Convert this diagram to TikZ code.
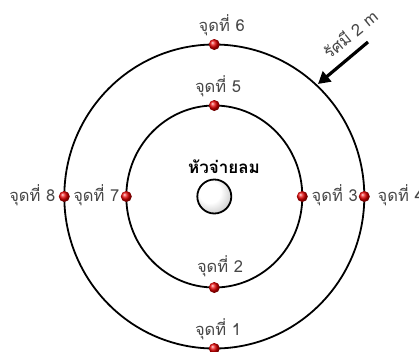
\documentclass[tikz,border=0pt]{standalone}
\usepackage{fontspec}
\newfontfamily\thaifont[Script=Thai]{Loma}
\usetikzlibrary{arrows.meta}
\pgfdeclareradialshading{wball}{\pgfpoint{-9bp}{9bp}}{color(0bp)=(white); color(16bp)=(white); color(30bp)=(black!18); color(40bp)=(black!45); color(60bp)=(black!55)}
\begin{document}
\begin{tikzpicture}[x=1pt,y=-1pt,
  ring/.style={line width=1.8pt,draw=black},
  dot/.style={circle,inner sep=0pt,minimum size=11pt,shading=ball,ball color=red!90!black},
  lbl/.style={font=\thaifont\fontsize{16.5}{18}\selectfont,text=black!72,inner sep=0.5pt},
  title/.style={font=\thaifont\bfseries\fontsize{17}{19}\selectfont,text=black,inner sep=0.5pt}]
\useasboundingbox (0,0) rectangle (419,351);
\coordinate (c) at (214.3,196.5);
\draw[ring] (c) ellipse (150 and 152);
\draw[ring] (c) ellipse (88 and 91);
\node[circle,minimum size=34pt,inner sep=0pt,shading=wball,draw=black,line width=1.8pt] (sprinkler) at (c) {};
\node[title] (t) at (224,167) {หัวจ่ายลม};
% dots
\node[dot] (p1) at (214.3,348.5) {};
\node[dot] (p2) at (214.3,287.5) {};
\node[dot] (p3) at (302.3,196.5) {};
\node[dot] (p4) at (364.3,196.5) {};
\node[dot] (p5) at (214.3,105.5) {};
\node[dot] (p6) at (214.3,44.5) {};
\node[dot] (p7) at (126.3,196.5) {};
\node[dot] (p8) at (64.3,196.5) {};
% labels
\node[lbl] (l1) at (218,329) {จุดที่ 1};
\node[lbl] (l2) at (220,266) {จุดที่ 2};
\node[lbl,anchor=west] (l3) at (311,195) {จุดที่ 3};
\node[lbl,anchor=west] (l4) at (377,195) {จุดที่ 4};
\node[lbl] (l5) at (218,86) {จุดที่ 5};
\node[lbl] (l6) at (221.7,25.5) {จุดที่ 6};
\node[lbl,anchor=east] (l7) at (120,195) {จุดที่ 7};
\node[lbl,anchor=east] (l8) at (56,195) {จุดที่ 8};
% radius
\coordinate (tip) at (318,84);
\coordinate (tail) at (368,42);
\draw[line width=3.2pt,-{Triangle[length=12pt,width=13pt]}] (tail) -- (tip);
\node[lbl,rotate=39] (r) at (350,34) {รัศมี 2 m};
\end{tikzpicture}
\end{document}
